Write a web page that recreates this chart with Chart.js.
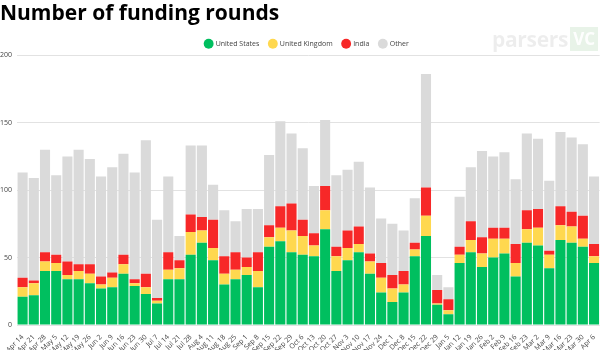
<!DOCTYPE html>
<html>
<head>
<meta charset="utf-8">
<script src="https://cdn.jsdelivr.net/npm/chart.js@4"></script>
<style>
  html, body { margin: 0; padding: 0; background: #fff; }
  #wrap { position: relative; width: 600px; height: 350px; }
  #wm { position: absolute; left: 492px; top: 27px; height: 24px; display: flex; align-items: center; font-family: "Open Sans", sans-serif; font-weight: bold; pointer-events: none; }
  #wm .p { font-size: 21px; color: rgba(0,0,0,0.07); letter-spacing: -0.3px; }
  #wm .v { font-size: 17px; color: rgba(255,255,255,0.95); background: rgba(150,200,150,0.22); padding: 0 3px; margin-left: 2px; line-height: 24px; }
</style>
</head>
<body>
<div id="wrap">
  <canvas id="c" width="600" height="350"></canvas>
  <div id="wm"><span class="p">parsers</span><span class="v">VC</span></div>
</div>
<script>
const weeks = ["Apr 14","Apr 21","Apr 28","May 5","May 12","May 19","May 26","Jun 2","Jun 9","Jun 16","Jun 23","Jun 30","Jul 7",
  "Jul 14","Jul 21","Jul 28","Aug 4","Aug 11","Aug 18","Aug 25","Sep 1","Sep 8","Sep 15","Sep 22","Sep 29","Oct 6",
  "Oct 13","Oct 20","Oct 27","Nov 3","Nov 10","Nov 17","Nov 24","Dec 1","Dec 8","Dec 15","Dec 22","Dec 29","Jan 5",
  "Jan 12","Jan 19","Jan 26","Feb 2","Feb 9","Feb 16","Feb 23","Mar 2","Mar 9","Mar 16","Mar 23","Mar 30","Apr 6"];

const unitedStates = [21,22,40,40,34,34,31,27,28,38,29,23,16,
  34,34,52,61,48,30,34,37,28,58,62,54,52,
  51,71,40,48,54,38,24,17,24,51,66,15,8,
  46,54,43,50,53,36,61,59,42,63,61,58,46];

const unitedKingdom = [7,9,7,6,3,6,7,3,7,7,2,5,2,
  7,8,17,9,9,8,7,6,12,7,10,16,14,
  8,14,11,9,6,9,11,10,6,5,15,1,3,
  6,9,10,14,11,10,10,13,10,11,12,6,5];

const india = [7,2,7,6,10,5,7,6,4,7,3,10,2,
  13,6,13,10,21,13,13,7,14,9,16,20,12,
  9,18,7,13,13,6,11,10,10,5,21,10,8,
  6,14,12,8,8,14,14,14,3,14,11,17,9];

const other = [78,76,76,59,78,85,78,74,78,75,79,99,58,
  56,18,51,53,26,34,23,36,32,52,63,52,53,
  35,49,53,45,48,49,33,38,30,33,84,11,9,
  37,40,64,53,56,48,57,52,52,55,55,53,50];

const yTicks = [0, 50, 100, 150, 200];

const FONT = '"Open Sans", sans-serif';

const legendShift = {
  id: 'legendShift',
  afterLayout(chart) {
    const lg = chart.legend;
    if (!lg) return;
    lg.left += 7; lg.right += 7;
    lg.top += 2; lg.bottom += 2;
  }
};

new Chart(document.getElementById('c'), {
  type: 'bar',
  data: {
    labels: weeks,
    datasets: [
      { label: 'United States', data: unitedStates, backgroundColor: '#00bf5f' },
      { label: 'United Kingdom', data: unitedKingdom, backgroundColor: '#ffd84f' },
      { label: 'India', data: india, backgroundColor: '#f72828' },
      { label: 'Other', data: other, backgroundColor: '#dadada' }
    ]
  },
  plugins: [legendShift],
  options: {
    responsive: false,
    animation: false,
    devicePixelRatio: 1,
    layout: { padding: { left: 0, right: 0, top: 1, bottom: 0 } },
    datasets: { bar: { categoryPercentage: 0.9, barPercentage: 1.0 } },
    plugins: {
      title: {
        display: true,
        text: 'Number of funding rounds',
        align: 'start',
        color: '#000',
        font: { family: FONT, size: 21, weight: 'bold' },
        padding: { top: 0, bottom: 2 }
      },
      legend: {
        position: 'top',
        labels: {
          usePointStyle: true,
          pointStyle: 'circle',
          boxWidth: 7,
          boxHeight: 7,
          padding: 10,
          color: '#444',
          font: { family: FONT, size: 7 }
        }
      },
      tooltip: { enabled: false }
    },
    scales: {
      x: {
        stacked: true,
        grid: { display: false },
        border: { display: false },
        afterFit: (s) => { s.height = 25; },
        ticks: {
          autoSkip: false,
          maxRotation: 45,
          minRotation: 45,
          padding: 0,
          color: '#444',
          font: { family: FONT, size: 7 }
        }
      },
      y: {
        stacked: true,
        min: 0,
        max: 200,
        afterBuildTicks: (s) => { s.ticks = yTicks.map(v => ({ value: v })); },
        afterFit: (s) => { s.width = 17; },
        grid: { color: '#e2e2e2', drawTicks: false },
        border: { display: false },
        ticks: {
          padding: 5,
          color: '#444',
          font: { family: FONT, size: 7 }
        }
      }
    }
  }
});
</script>
</body>
</html>
